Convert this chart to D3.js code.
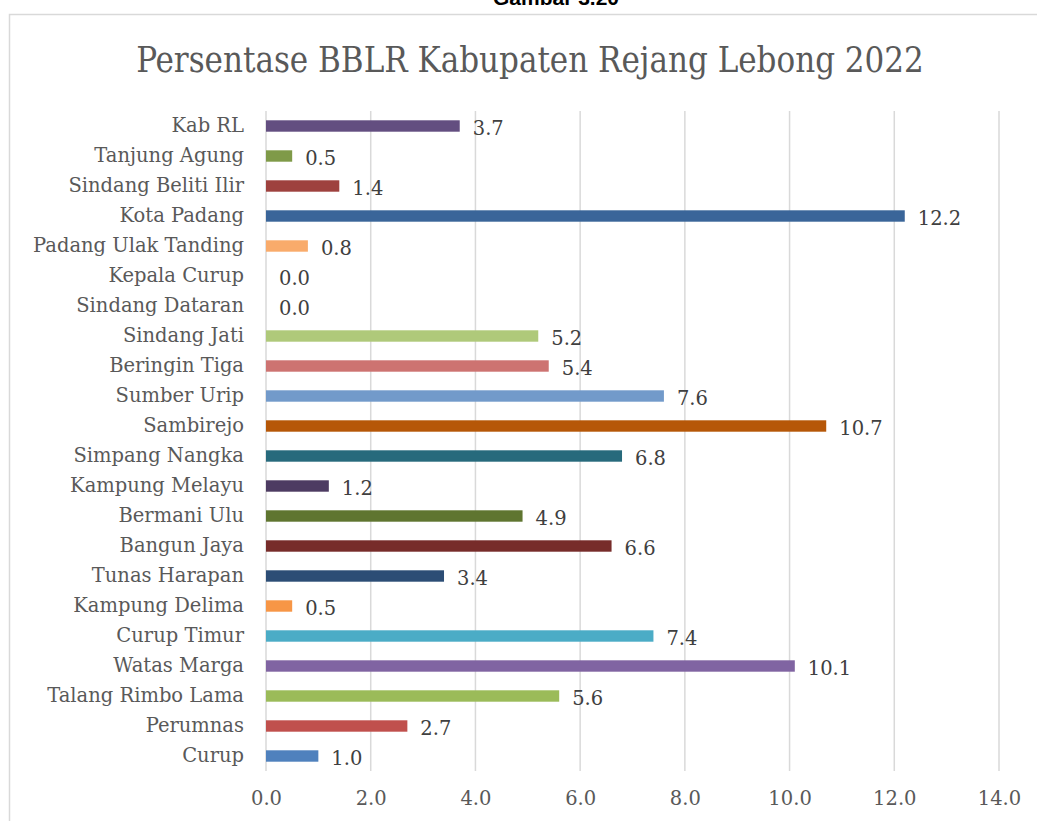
<!DOCTYPE html>
<html>
<head>
<meta charset="utf-8">
<script src="https://cdn.jsdelivr.net/npm/d3@7"></script>
<style>
  body { margin: 0; background: #fff; }
  svg { display: block; }
</style>
</head>
<body>
<div id="chart"></div>
<script>
// data, bottom to top
var categories = ['Curup', 'Perumnas', 'Talang Rimbo Lama', 'Watas Marga', 'Curup Timur',
  'Kampung Delima', 'Tunas Harapan', 'Bangun Jaya', 'Bermani Ulu', 'Kampung Melayu',
  'Simpang Nangka', 'Sambirejo', 'Sumber Urip', 'Beringin Tiga', 'Sindang Jati',
  'Sindang Dataran', 'Kepala Curup', 'Padang Ulak Tanding', 'Kota Padang',
  'Sindang Beliti Ilir', 'Tanjung Agung', 'Kab RL'];
var values = [1.0, 2.7, 5.6, 10.1, 7.4, 0.5, 3.4, 6.6, 4.9, 1.2, 6.8, 10.7, 7.6, 5.4, 5.2,
  0.0, 0.0, 0.8, 12.2, 1.4, 0.5, 3.7];
var barColors = ['#4F81BD', '#C0504D', '#9BBB59', '#8064A2', '#4BACC6', '#F79646',
  '#2C4D75', '#772C2A', '#5F7530', '#4D3B62', '#276A7C', '#B65708', '#729ACA',
  '#CD7371', '#AFC97A', '#A99BBD', '#71C2D8', '#F9AB6B', '#3A6599', '#9E413E',
  '#7F9A48', '#634E80'];
var xTicks = [0, 2, 4, 6, 8, 10, 12, 14];

var width = 1037;
var height = 821;
var margin = { left: 266, right: 38, top: 111, bottom: 50 };
var serif = 'DejaVu Serif, serif';

var svg = d3.select('#chart')
  .append('svg')
  .attr('width', width)
  .attr('height', height);

// caption, cut off at the top of the page as in the source
svg.append('text')
  .attr('x', 556)
  .attr('y', 5)
  .attr('text-anchor', 'middle')
  .style('font-family', 'Liberation Sans, Arial, sans-serif')
  .style('font-weight', 'bold')
  .style('font-size', '21px')
  .style('fill', '#000')
  .text('Gambar 3.20');

// chart frame
svg.append('rect')
  .attr('x', 9.5)
  .attr('y', 14.5)
  .attr('width', 1040)
  .attr('height', 830)
  .style('fill', 'none')
  .style('stroke', '#d9d9d9')
  .style('stroke-width', 1.5);

svg.append('text')
  .attr('x', 530)
  .attr('y', 72)
  .attr('text-anchor', 'middle')
  .style('font-family', 'DejaVu Serif Condensed, DejaVu Serif, serif')
  .style('font-size', '34.5px')
  .style('fill', '#595959')
  .text('Persentase BBLR Kabupaten Rejang Lebong 2022');

var x = d3.scaleLinear()
  .domain([0, 14])
  .range([margin.left, width - margin.right]);

var y = d3.scaleBand()
  .domain(categories.slice().reverse())
  .range([margin.top, height - margin.bottom])
  .paddingInner(0.62)
  .paddingOuter(0.31);

// gridlines
svg.append('g')
  .selectAll('line')
  .data(xTicks)
  .enter().append('line')
  .attr('x1', function(d) { return x(d); })
  .attr('x2', function(d) { return x(d); })
  .attr('y1', margin.top)
  .attr('y2', height - margin.bottom)
  .style('stroke', '#d9d9d9')
  .style('stroke-width', 1.5);

// x tick labels
var xAxis = d3.axisBottom(x)
  .tickValues(xTicks)
  .tickFormat(d3.format('.1f'))
  .tickSize(0)
  .tickPadding(20);

svg.append('g')
  .attr('transform', 'translate(0,' + (height - margin.bottom) + ')')
  .call(xAxis)
  .call(function(g) { g.select('.domain').remove(); })
  .selectAll('text')
  .style('font-family', serif)
  .style('font-size', '19.5px')
  .style('fill', '#595959');

// category labels
var yAxis = d3.axisLeft(y).tickSize(0).tickPadding(22);
svg.append('g')
  .attr('transform', 'translate(' + margin.left + ',0)')
  .call(yAxis)
  .call(function(g) { g.select('.domain').remove(); })
  .selectAll('text')
  .style('font-family', serif)
  .style('font-size', '19.5px')
  .style('fill', '#595959');

// bars
svg.append('g')
  .selectAll('rect')
  .data(categories)
  .enter().append('rect')
  .attr('x', x(0))
  .attr('y', function(d) { return y(d); })
  .attr('width', function(d, i) { return x(values[i]) - x(0); })
  .attr('height', y.bandwidth())
  .style('fill', function(d, i) { return barColors[i]; });

// value labels
svg.append('g')
  .selectAll('text')
  .data(categories)
  .enter().append('text')
  .attr('x', function(d, i) { return x(values[i]) + 13; })
  .attr('y', function(d) { return y(d) + y.bandwidth() / 2; })
  .attr('dy', '0.45em')
  .style('font-family', serif)
  .style('font-size', '19.5px')
  .style('fill', '#404040')
  .text(function(d, i) { return values[i].toFixed(1); });
</script>
</body>
</html>
